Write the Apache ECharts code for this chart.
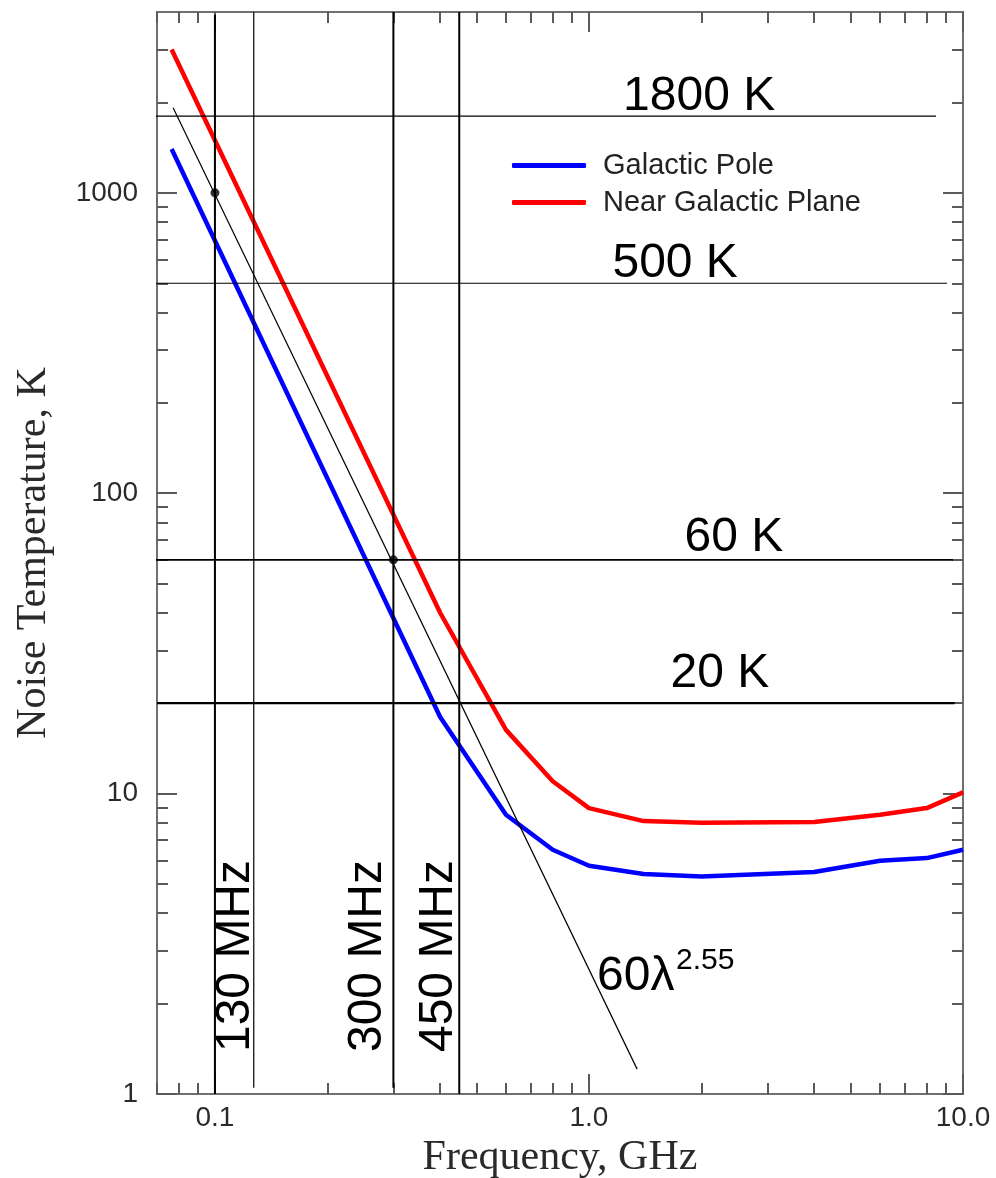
<!DOCTYPE html>
<html><head><meta charset="utf-8">
<script src="https://cdn.jsdelivr.net/npm/echarts@6/dist/echarts.min.js"></script>
<style>html,body{margin:0;padding:0;background:#fff}#c{width:996px;height:1178px}</style>
</head><body><div id="c"></div>
<script>
// ---- data (GHz, K) ----
const freqPole  = [0.0766, 0.4, 0.6, 0.8, 1.0, 1.4, 2.0, 4.0, 6.0, 8.0, 10.0];
const tempPole  = [1400, 18, 8.5, 6.5, 5.75, 5.4, 5.3, 5.48, 5.98, 6.1, 6.5];
const freqPlane = [0.0766, 0.4, 0.6, 0.8, 1.0, 1.4, 2.0, 4.0, 6.0, 8.0, 10.0];
const tempPlane = [3000, 40, 16.3, 11, 8.95, 8.1, 8.0, 8.05, 8.5, 8.95, 10.1];
const lawFreq = [0.0773, 1.345];
const lawTemp = [1920, 1.21];
const markFreqs = [0.1, 0.127, 0.3, 0.45];
const markFreqLow = [1, 1.05, 1.05, 1];
const markFreqHigh = [3920, 4000, 4000, 4000];
const markFreqLabels = ['', '130 MHz', '300 MHz', '450 MHz'];
const markTemps = [1800, 500, 60, 20];
const markTempFrom = [0.0647, 0.0687, 0.069, 0.070];
const markTempTo = [8.47, 9.06, 9.4, 9.5];
const markTempLabels = ['1800 K', '500 K', '60 K', '20 K'];
const dotFreq = [0.1, 0.3];
const dotTemp = [1000, 60];
const xMajorTicks = [0.1, 1, 10];
const xMinorTicks = [0.07, 0.08, 0.09, 0.2, 0.3, 0.4, 0.5, 0.6, 0.7, 0.8, 0.9, 2, 3, 4, 5, 6, 7, 8, 9];
const yMajorTicks = [1, 10, 100, 1000];
const yMinorTicks = [2, 3, 4, 5, 6, 7, 8, 9, 20, 30, 40, 50, 60, 70, 80, 90, 200, 300, 400, 500, 600, 700, 800, 900, 2000, 3000];

// ---- styles / layout ----
const SANS = 'Liberation Sans', SERIF = 'Liberation Serif';
const AXIS_GREY = '#707070', TICK_GREY = '#5a5a5a';
const markFreqWidths = [2, 1.2, 2, 2];
const markTempWidths = [1.2, 1.2, 1.8, 2.2];

const chart = echarts.init(document.getElementById('c'), null, {renderer: 'canvas'});

function mkAxis(dim, pos, ticks, len, opts) {
  const base = {
    type: 'log', logBase: 10, position: pos,
    min: dim === 'x' ? 0.07 : 1, max: dim === 'x' ? 10 : 4000,
    splitLine: {show: false},
    axisLine: {show: !!opts.line, onZero: false, lineStyle: {color: AXIS_GREY, width: 2}},
    axisTick: {show: true, inside: true, length: len, customValues: ticks, lineStyle: {color: TICK_GREY, width: 2}},
    axisLabel: {show: false},
    minorTick: {show: false}
  };
  if (opts.labels) {
    base.axisLabel = {
      show: true, customValues: opts.labels, color: '#2a2a2a', fontFamily: SANS, fontSize: 28,
      margin: dim === 'x' ? 10 : 19,
      formatter: dim === 'x' ? (v => Number(v).toFixed(1)) : (v => String(Math.round(v)))
    };
  }
  if (opts.name) {
    base.name = opts.name;
    base.nameLocation = 'middle';
    base.nameGap = opts.nameGap;
    base.nameTextStyle = {fontFamily: SERIF, fontSize: 42, color: '#2a2a2a'};
  }
  return base;
}

const series = [];
series.push({
  name: 'Galactic Pole', type: 'line', symbol: 'none', z: 3,
  data: freqPole.map((f, i) => [f, tempPole[i]]),
  lineStyle: {color: '#0000ff', width: 4.5}, itemStyle: {color: '#0000ff'}
});
series.push({
  name: 'Near Galactic Plane', type: 'line', symbol: 'none', z: 3,
  data: freqPlane.map((f, i) => [f, tempPlane[i]]),
  lineStyle: {color: '#ff0000', width: 4.5}, itemStyle: {color: '#ff0000'}
});
series.push({
  name: 'law', type: 'line', symbol: 'none', z: 4, silent: true,
  data: lawFreq.map((f, i) => [f, lawTemp[i]]),
  lineStyle: {color: '#000', width: 1.2}
});
markFreqs.forEach((f, i) => series.push({
  name: 'v' + i, type: 'line', symbol: 'none', z: 4, silent: true, clip: false,
  data: [[f, markFreqLow[i]], [f, markFreqHigh[i]]],
  lineStyle: {color: '#000', width: markFreqWidths[i]}
}));
markTemps.forEach((t, i) => series.push({
  name: 'h' + i, type: 'line', symbol: 'none', z: 4, silent: true, clip: false,
  data: [[markTempFrom[i], t], [markTempTo[i], t]],
  lineStyle: {color: '#000', width: markTempWidths[i]}
}));
series.push({
  name: 'dots', type: 'scatter', symbol: 'circle', symbolSize: 9, z: 5, silent: true,
  data: dotFreq.map((f, i) => [f, dotTemp[i]]),
  itemStyle: {color: '#000'}
});

const option = {
  animation: false,
  backgroundColor: '#fff',
  grid: {left: 157, right: 33, top: 12, bottom: 84, containLabel: false, outerBoundsMode: 'none'},
  legend: {
    data: ['Galactic Pole', 'Near Galactic Plane'], orient: 'vertical', padding: 0,
    left: 512, top: 147, itemWidth: 74, itemHeight: 5, itemGap: 0, icon: 'roundRect',
    textStyle: {fontFamily: SANS, fontSize: 29, color: '#222', lineHeight: 37, padding: [0, 0, 0, 12]}
  },
  xAxis: [
    mkAxis('x', 'bottom', xMajorTicks, 20, {line: true, labels: xMajorTicks, name: 'Frequency, GHz', nameGap: 40}),
    mkAxis('x', 'bottom', xMinorTicks, 11, {}),
    mkAxis('x', 'top', xMajorTicks, 20, {line: true}),
    mkAxis('x', 'top', xMinorTicks, 11, {})
  ],
  yAxis: [
    mkAxis('y', 'left', yMajorTicks, 20, {line: true, labels: yMajorTicks, name: 'Noise Temperature, K', nameGap: 102}),
    mkAxis('y', 'left', yMinorTicks, 11, {}),
    mkAxis('y', 'right', yMajorTicks, 20, {line: true}),
    mkAxis('y', 'right', yMinorTicks, 11, {})
  ],
  series: series
};
chart.setOption(option);

// ---- annotations anchored to the reference lines ----
const px = (f, t) => chart.convertToPixel({seriesIndex: 0}, [f, t]);
const hLabelX = [1.97, 1.70, 2.44, 2.24];
const hLabelDy = [19.5, 19.5, 22.5, 29.5];
const vLabelDx = [0, -18, -25.5, -20.5];
const vLabelDy = 138;
const graphics = [];
markTemps.forEach((t, i) => {
  const p = px(hLabelX[i], t);
  graphics.push({type: 'text', x: p[0], y: p[1] - hLabelDy[i], z: 10,
    style: {text: markTempLabels[i], fontFamily: SANS, fontSize: 48, fill: '#000', align: 'center', verticalAlign: 'middle'}});
});
markFreqs.forEach((f, i) => {
  if (!markFreqLabels[i]) return;
  const p = px(f, 1);
  graphics.push({type: 'text', x: p[0] + vLabelDx[i], y: p[1] - vLabelDy, rotation: Math.PI / 2, z: 10,
    style: {text: markFreqLabels[i], fontFamily: SANS, fontSize: 48, fill: '#000', align: 'center', verticalAlign: 'middle'}});
});
graphics.push({type: 'text', x: 597, y: 977, z: 10,
  style: {text: '60λ', fontFamily: SANS, fontSize: 48, fill: '#000', align: 'left', verticalAlign: 'middle'}});
graphics.push({type: 'text', x: 676, y: 961, z: 10,
  style: {text: '2.55', fontFamily: SANS, fontSize: 30, fill: '#000', align: 'left', verticalAlign: 'middle'}});
chart.setOption({graphic: graphics});
</script>
</body></html>
